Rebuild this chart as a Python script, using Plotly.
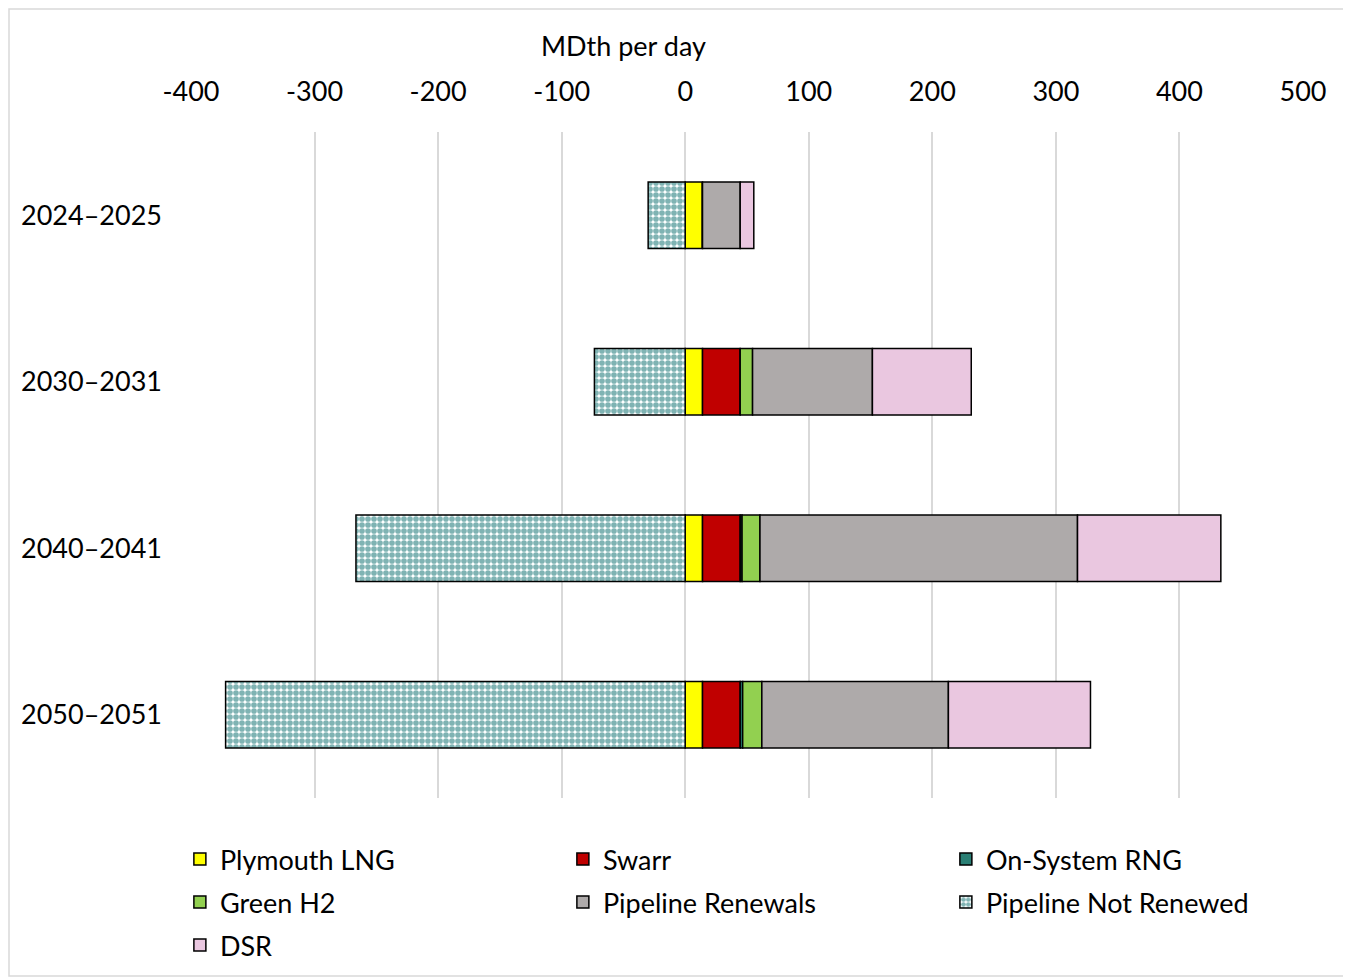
import plotly.graph_objects as go

categories = ["2024–2025", "2030–2031", "2040–2041", "2050–2051"]
plymouth_lng = [14, 14, 14, 14]
swarr = [0, 30.5, 30.5, 30.5]
on_system_rng = [0, 0, 1.5, 2]
green_h2 = [0, 10, 14.5, 15.5]
pipeline_renewals = [30.5, 97, 257, 151]
pipeline_not_renewed = [-30, -73.5, -266.5, -372]
dsr = [11, 80, 116, 115]
tick_vals = [-400, -300, -200, -100, 0, 100, 200, 300, 400, 500]
tick_text = ["-400", "-300", "-200", "-100", "0", "100", "200", "300", "400", "500"]

FONT = "Lato"
OFF = 8  # browser body margin
W, H = 1351 - OFF, 977 - OFF
L, R, T, B = 191 - OFF, 48, 132 - OFF, 179
FS = 27

fig = go.Figure()

def add(name, vals, color, legend, pattern=None):
    marker = dict(color=color, line=dict(color="black", width=1.5))
    if pattern:
        marker["pattern"] = pattern
    fig.add_trace(go.Bar(y=categories, x=vals, name=name, orientation="h",
                         marker=marker, width=0.4, legend=legend))

add("Plymouth LNG", plymouth_lng, "#FFFF00", "legend")
add("Swarr", swarr, "#C00000", "legend")
add("On-System RNG", on_system_rng, "#2A7F74", "legend")
add("Green H2", green_h2, "#92D050", "legend2")
add("Pipeline Renewals", pipeline_renewals, "#AEAAAA", "legend2")
add("Pipeline Not Renewed", pipeline_not_renewed, "white", "legend2",
    dict(shape=".", fgcolor="#006868", bgcolor="white", size=6, solidity=0.7))
add("DSR", dsr, "#EAC7E0", "legend3")

pw = W - L - R
ph = H - T - B
plot_bottom = 798  # screen px

def leg(row_center):
    top = row_center - 24
    return dict(orientation="h", x=-0.01, xanchor="left",
                y=-(top - plot_bottom) / ph, yanchor="top",
                entrywidth=338, entrywidthmode="pixels",
                font=dict(size=FS), bgcolor="rgba(0,0,0,0)", traceorder="normal")

fig.update_layout(
    width=W, height=H,
    margin=dict(l=L, r=R, t=T, b=B, autoexpand=False),
    barmode="relative",
    plot_bgcolor="white", paper_bgcolor="white",
    font=dict(family=FONT, size=FS, color="black"),
    xaxis=dict(side="top", range=[-400, 500], tickvals=tick_vals, ticktext=tick_text,
               showgrid=True, gridcolor="#D9D9D9", gridwidth=1.5,
               zeroline=False, showline=False, ticks="", ticklabelstandoff=25,
               tickfont=dict(size=FS)),
    yaxis=dict(autorange="reversed", showgrid=False, zeroline=False,
               ticks="", ticklabelstandoff=28, tickfont=dict(size=FS)),
    showlegend=True,
    legend=leg(859),
    legend2=leg(902),
    legend3=leg(945),
    annotations=[dict(text="MDth per day", xref="x", x=-50, yref="paper",
                      y=(plot_bottom - 46) / ph, yanchor="middle", showarrow=False,
                      font=dict(size=FS))],
    shapes=[dict(type="rect", xref="paper", yref="paper",
                 x0=(1 - L) / pw, x1=(1339 - L) / pw,
                 y0=(-B + 1) / ph, y1=(H - B - 1) / ph,
                 line=dict(color="#D9D9D9", width=1.5), layer="below")],
)

fig.write_html("out.html")
